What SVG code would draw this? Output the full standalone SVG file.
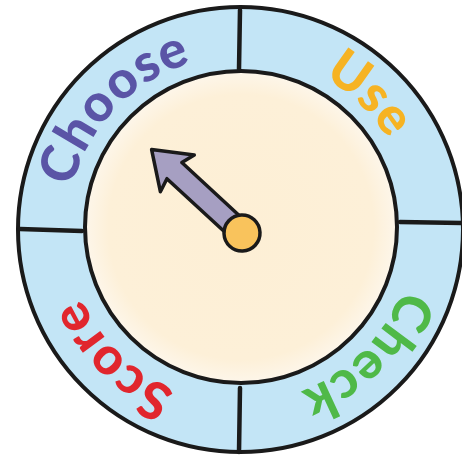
<svg xmlns="http://www.w3.org/2000/svg" width="462" height="461" viewBox="0 0 462 461">
<defs>
<style>
.line{fill:none;stroke:#1a1a1a;stroke-linecap:round}
.lbl{font-family:Lato,"Open Sans","DejaVu Sans",sans-serif;font-weight:900;font-size:52px;letter-spacing:1px}
</style>
<radialGradient id="cream" cx="0.5" cy="0.5" r="0.5">
<stop offset="0" stop-color="#fdefd5"/>
<stop offset="0.85" stop-color="#fdf0d8"/>
<stop offset="1" stop-color="#fdf6ea"/>
</radialGradient>
<path id="ringPath" d="M 67 229 A 173 173 0 1 1 413 229 A 173 173 0 1 1 67 229"/>
</defs>
<rect width="462" height="461" fill="#ffffff"/>
<g id="ring">
<circle cx="240.5" cy="229.5" r="222.5" fill="#c3e5f6" stroke="#1a1a1a" stroke-width="4"/>
</g>
<g id="dial">
<circle cx="241" cy="227" r="156" fill="url(#cream)" stroke="#1a1a1a" stroke-width="4"/>
</g>
<g id="connectors">
<line class="line" x1="240" y1="10" x2="239" y2="69" stroke-width="4.5"/>
<line class="line" x1="400" y1="222" x2="462" y2="223" stroke-width="4.5"/>
<line class="line" x1="240" y1="388" x2="239" y2="452" stroke-width="4.5"/>
<line class="line" x1="20" y1="229" x2="82" y2="231" stroke-width="4.5"/>
</g>
<g id="choose"><text class="lbl" fill="#5a54a6"><textPath href="#ringPath" startOffset="12.2%" text-anchor="middle">Choose</textPath></text></g>
<g id="use"><text class="lbl" fill="#f6b323"><textPath href="#ringPath" startOffset="37.2%" text-anchor="middle">Use</textPath></text></g>
<g id="check"><text class="lbl" fill="#4fb948"><textPath href="#ringPath" startOffset="62.5%" text-anchor="middle">Check</textPath></text></g>
<g id="score"><text class="lbl" fill="#e1262d"><textPath href="#ringPath" startOffset="87.3%" text-anchor="middle">Score</textPath></text></g>
<g id="pointer" transform="translate(242 233) rotate(222.7)">
<polygon points="0,-11 92,-11 88,-25 123,0 88,25 92,11 0,11" fill="#a69fc2" stroke="#1a1a1a" stroke-width="3.5" stroke-linejoin="round"/>
<circle cx="0" cy="0" r="18" fill="#f9c35c" stroke="#1a1a1a" stroke-width="3.5"/>
</g>
</svg>
